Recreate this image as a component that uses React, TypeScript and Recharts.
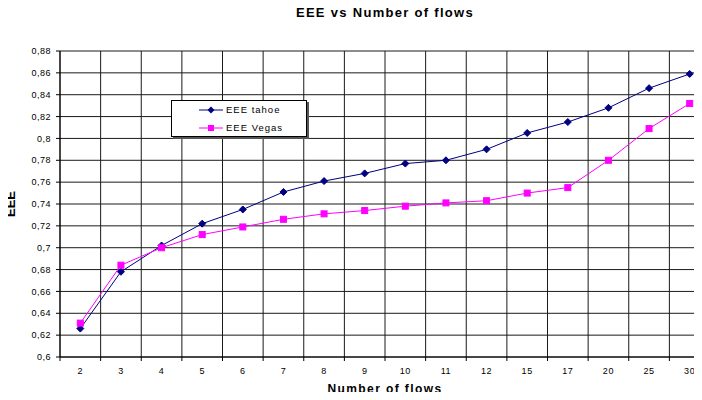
import { LineChart, Line, XAxis, YAxis, CartesianGrid, Legend } from "recharts";

const flows = ["2", "3", "4", "5", "6", "7", "8", "9", "10", "11", "12", "15", "17", "20", "25", "30"];
const tahoe = [0.626, 0.678, 0.702, 0.722, 0.735, 0.751, 0.761, 0.768, 0.777, 0.78, 0.79, 0.805, 0.815, 0.828, 0.846, 0.859];
const vegas = [0.631, 0.684, 0.7, 0.712, 0.719, 0.726, 0.731, 0.734, 0.738, 0.741, 0.743, 0.75, 0.755, 0.78, 0.809, 0.832];
const yTicks = [0.6, 0.62, 0.64, 0.66, 0.68, 0.7, 0.72, 0.74, 0.76, 0.78, 0.8, 0.82, 0.84, 0.86, 0.88];

const data = flows.map((f, i) => ({ flows: f, tahoe: tahoe[i], vegas: vegas[i] }));

const CHART_W = 712;
const CHART_H = 400;
const MARGIN = { top: 51, right: 2, bottom: 0, left: 0 };
const Y_AXIS_W = 60;
const PLOT_W = CHART_W - MARGIN.left - MARGIN.right - Y_AXIS_W;
const HALF_BAND = PLOT_W / flows.length / 2;

const FONT = "Arial, 'Liberation Sans', sans-serif";
const NAVY = "#000080";
const MAGENTA = "#ff00ff";

const fmt = (v: number) => String(Number(v.toFixed(2))).replace(".", ",");

function FlowTick({ x, y, payload }: any) {
  return (
    <g>
      <line x1={x - HALF_BAND} y1={y} x2={x - HALF_BAND} y2={y + 4} stroke="#000" />
      <text x={x} y={y + 17} textAnchor="middle" fontSize={9} letterSpacing={0.6} fill="#000" fontFamily={FONT}>
        {payload.value}
      </text>
    </g>
  );
}

function Diamond({ cx, cy }: any) {
  if (cx == null || cy == null) return null;
  return <path d={`M${cx},${cy - 3.5}L${cx + 3.5},${cy}L${cx},${cy + 3.5}L${cx - 3.5},${cy}Z`} fill={NAVY} stroke={NAVY} />;
}

function Square({ cx, cy }: any) {
  if (cx == null || cy == null) return null;
  return <rect x={cx - 3} y={cy - 3} width={6} height={6} fill={MAGENTA} stroke={MAGENTA} />;
}

function LegendBox() {
  const row = (label: string, color: string, marker: "diamond" | "square") => (
    <div style={{ display: "flex", alignItems: "center", height: 18, lineHeight: "18px" }}>
      <svg width={28} height={10} style={{ marginLeft: 26, display: "block" }}>
        <line x1={1} y1={5} x2={25} y2={5} stroke={color} strokeWidth={1} />
        {marker === "diamond" ? (
          <path d="M13,1.5L16.5,5L13,8.5L9.5,5Z" fill={color} />
        ) : (
          <rect x={10} y={2} width={6} height={6} fill={color} />
        )}
      </svg>
      <span style={{ fontSize: 9.5, letterSpacing: 1, fontFamily: FONT, color: "#000" }}>{label}</span>
    </div>
  );
  return (
    <div
      style={{
        width: 136,
        height: 37,
        background: "#fff",
        border: "1px solid #000",
        boxShadow: "2px 2px 0 #555",
        boxSizing: "border-box",
        overflow: "hidden",
      }}
    >
      {row("EEE tahoe", NAVY, "diamond")}
      {row("EEE Vegas", MAGENTA, "square")}
    </div>
  );
}

export default function App() {
  return (
    <div style={{ position: "relative", width: 702, height: 400, margin: -8, overflow: "hidden", background: "#fff" }}>
      <div
        style={{
          position: "absolute",
          top: 5,
          left: 60,
          width: PLOT_W,
          textAlign: "center",
          fontFamily: FONT,
          fontWeight: "bold",
          fontSize: 13,
          letterSpacing: 1.3,
          color: "#000",
        }}
      >
        EEE vs Number of flows
      </div>
      <LineChart width={CHART_W} height={CHART_H} data={data} margin={MARGIN}>
        <CartesianGrid
          stroke="#1a1a1a"
          strokeWidth={1}
          verticalCoordinatesGenerator={({ offset }: any) =>
            flows.map((_, i) => offset.left + (i * offset.width) / flows.length).concat(offset.left + offset.width)
          }
        />
        <XAxis
          dataKey="flows"
          scale="band"
          interval={0}
          height={43}
          tickSize={0}
          tickMargin={0}
          tickLine={false}
          axisLine={{ stroke: "#000" }}
          tick={<FlowTick />}
          label={{
            value: "Number of flows",
            position: "insideBottom",
            offset: 7,
            style: { fontFamily: FONT, fontWeight: "bold", fontSize: 12, letterSpacing: 1.4, fill: "#000" },
          }}
        />
        <YAxis
          width={Y_AXIS_W}
          domain={[0.6, 0.88]}
          ticks={yTicks}
          interval={0}
          tickFormatter={fmt}
          tickSize={4}
          tickMargin={5}
          axisLine={{ stroke: "#000" }}
          tickLine={{ stroke: "#000" }}
          tick={{ fontSize: 9, letterSpacing: 0.5, fill: "#000", fontFamily: FONT }}
          label={{
            value: "EEE",
            angle: -90,
            position: "insideLeft",
            offset: 10,
            style: { textAnchor: "middle", fontFamily: FONT, fontWeight: "bold", fontSize: 13, fill: "#000" },
          }}
        />
        <Legend
          layout="horizontal"
          verticalAlign="middle"
          align="center"
          content={() => <LegendBox />}
          wrapperStyle={{ position: "absolute", left: 171, top: 100, width: 138, height: 39 }}
        />
        <Line
          dataKey="tahoe"
          name="EEE tahoe"
          stroke={NAVY}
          strokeWidth={1}
          dot={<Diamond />}
          activeDot={false}
          isAnimationActive={false}
        />
        <Line
          dataKey="vegas"
          name="EEE Vegas"
          stroke={MAGENTA}
          strokeWidth={1}
          dot={<Square />}
          activeDot={false}
          isAnimationActive={false}
        />
      </LineChart>
    </div>
  );
}
